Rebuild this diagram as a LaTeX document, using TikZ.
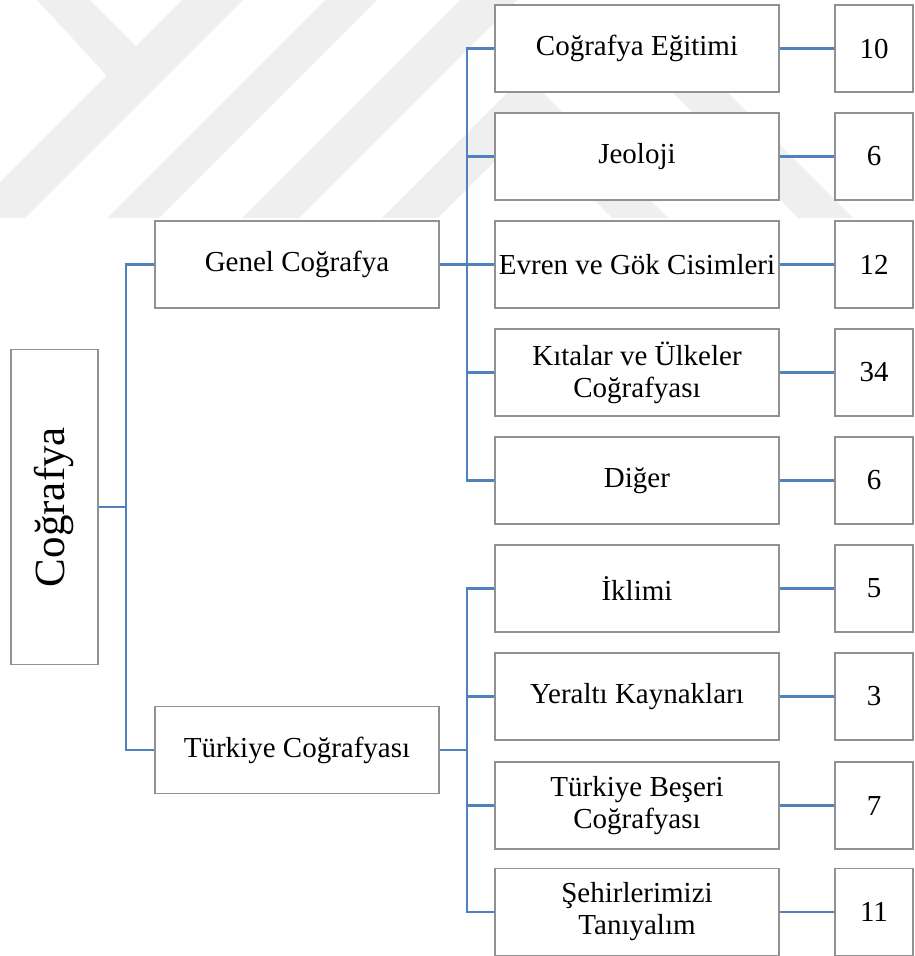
\documentclass[tikz,border=0pt]{standalone}
\usepackage{fontspec}
\setmainfont{Liberation Serif}
\usepackage{graphicx}
\definecolor{wm}{RGB}{239,239,239}
\definecolor{connblue}{RGB}{79,129,189}
\definecolor{boxline}{RGB}{145,145,145}
\tikzset{
  box/.style={draw=boxline, line width=1.3pt, fill=white, inner sep=0pt, align=center, font=\fontsize{29}{32}\selectfont},
  catbox/.style={box, minimum width=284pt, minimum height=87pt},
  numbox/.style={box, minimum width=78pt, minimum height=87pt},
  link/.style={draw=connblue, line width=2.2pt},
}
\begin{document}
\begin{tikzpicture}[x=1pt,y=-1pt]
\useasboundingbox (0,0) rectangle (914,956);
% watermark
\fill[wm] (182,0) -- (243,0) -- (25,218) -- (0,218) -- (0,182) -- cycle;
\fill[wm] (37,0) -- (90,0) -- (150,60) -- (120,90) -- cycle;
\fill[wm] (325,0) -- (377,0) -- (159,218) -- (107,218) -- cycle;
\fill[wm] (460,0) -- (517,0) -- (299,218) -- (242,218) -- cycle;
\fill[wm] (382,218) -- (525,75) -- (668,218) -- (612,218) -- (525,131) -- (438,218) -- cycle;
\fill[wm] (590,10) -- (645,10) -- (853,218) -- (798,218) -- cycle;
% connector junctions
\coordinate (t) at (126,507);
\coordinate (bg) at (467,264.5);
\coordinate (bt) at (467,750);
% nodes
\node[box, minimum width=87pt, minimum height=315pt] (root) at (54.5,507) {\rotatebox{90}{\fontsize{43}{43}\selectfont Coğrafya}};
\node[catbox] (genel) at (297,264.5) {Genel Coğrafya};
\node[catbox] (turk) at (297,750) {Türkiye Coğrafyası};
\node[catbox] (r1) at (637,48.5) {Coğrafya Eğitimi};
\node[catbox] (r2) at (637,156.5) {Jeoloji};
\node[catbox] (r3) at (637,264.5) {Evren ve Gök Cisimleri};
\node[catbox] (r4) at (637,372.5) {Kıtalar ve Ülkeler\\Coğrafyası};
\node[catbox] (r5) at (637,480.5) {Diğer};
\node[catbox] (r6) at (637,588.5) {İklimi};
\node[catbox] (r7) at (637,696.5) {Yeraltı Kaynakları};
\node[catbox] (r8) at (637,805.5) {Türkiye Beşeri\\Coğrafyası};
\node[catbox] (r9) at (637,912) {Şehirlerimizi\\Tanıyalım};
\node[numbox] (n1) at (874,48.5) {10};
\node[numbox] (n2) at (874,156.5) {6};
\node[numbox] (n3) at (874,264.5) {12};
\node[numbox] (n4) at (874,372.5) {34};
\node[numbox] (n5) at (874,480.5) {6};
\node[numbox] (n6) at (874,588.5) {5};
\node[numbox] (n7) at (874,696.5) {3};
\node[numbox] (n8) at (874,805.5) {7};
\node[numbox] (n9) at (874,912) {11};
% connectors
\draw[link] (root.east) -- (t);
\draw[link] (t) |- (genel.west);
\draw[link] (t) |- (turk.west);
\draw[link] (genel.east) -- (bg);
\foreach \r in {r1,r2,r3,r4,r5} \draw[link] (bg) |- (\r.west);
\draw[link] (turk.east) -- (bt);
\foreach \r in {r6,r7,r8,r9} \draw[link] (bt) |- (\r.west);
\foreach \i in {1,...,9} \draw[link] (r\i.east) -- (n\i.west);
\end{tikzpicture}
\end{document}
